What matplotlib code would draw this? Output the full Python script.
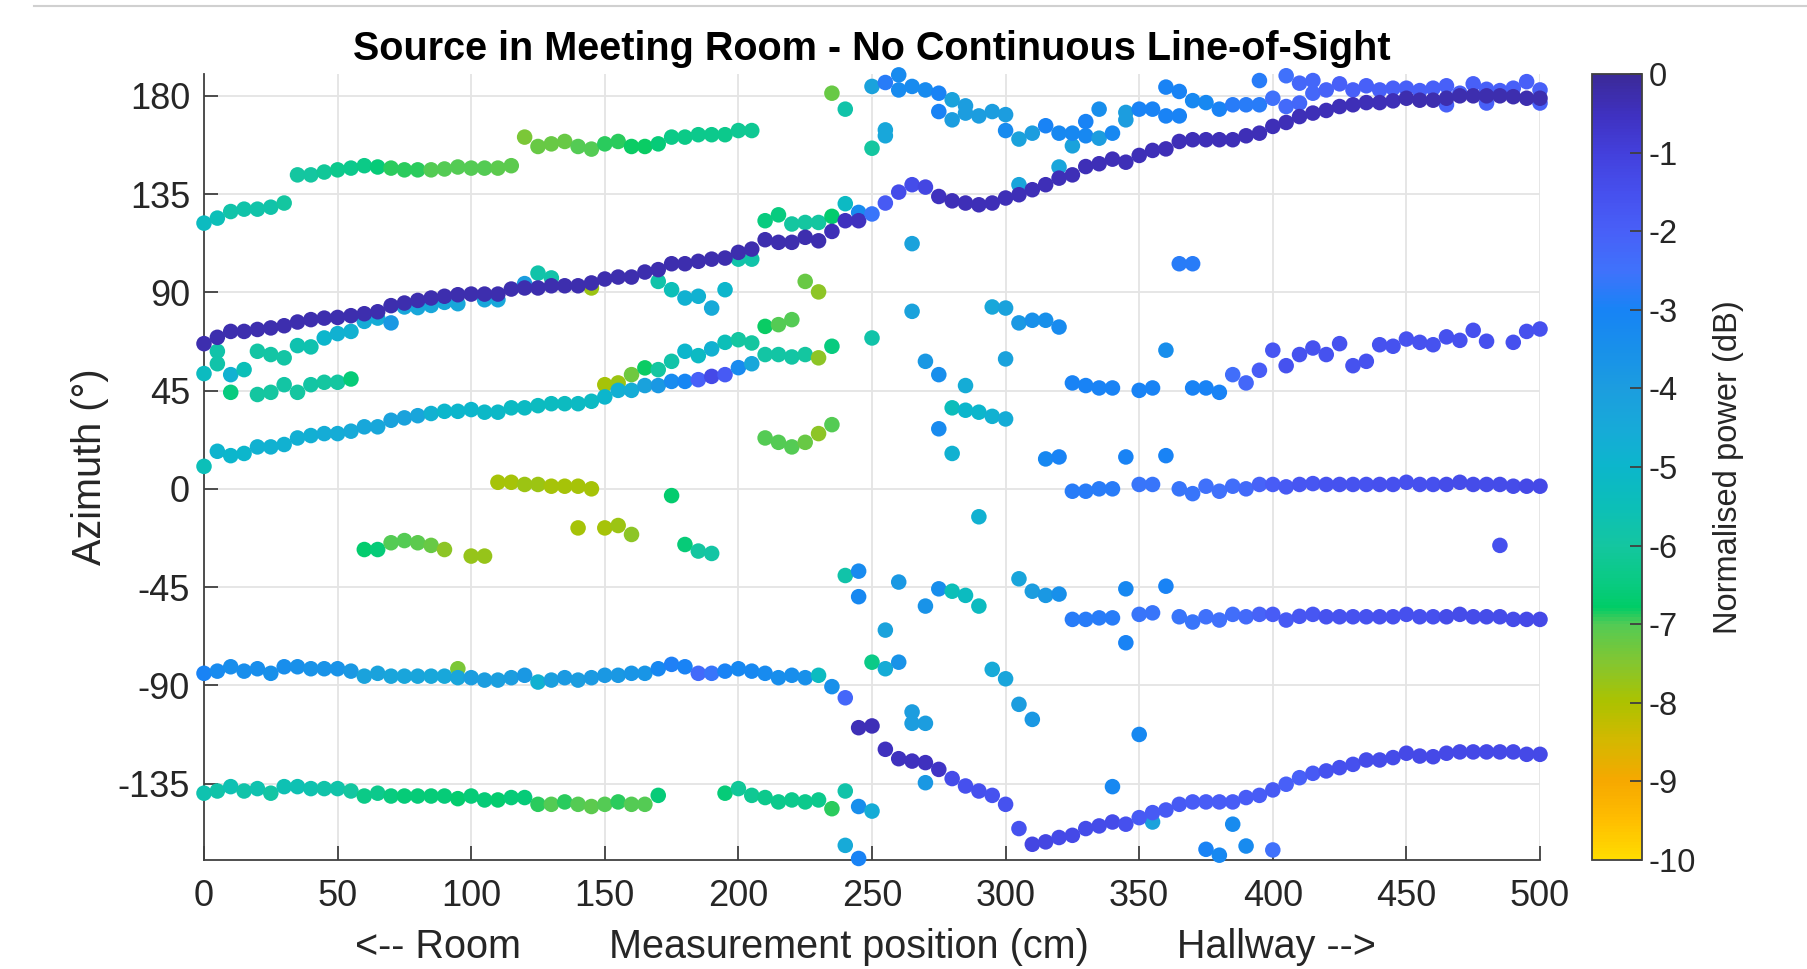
import matplotlib.pyplot as plt
import numpy as np
from matplotlib.colors import LinearSegmentedColormap
from matplotlib.lines import Line2D

plt.rcParams["font.family"] = ["Liberation Sans", "DejaVu Sans"]
plt.rcParams["axes.unicode_minus"] = False

STEP = 5  # cm between measurement positions

# strongest path, measured 0..500 cm
direct_az = [
    66.5, 69.4, 72.1, 72.1, 73.0, 73.7, 74.7, 76.4, 77.5, 78.2,
    78.5, 79.3, 80.2, 81.1, 83.9, 85.1, 86.3, 87.4, 88.2, 88.9,
    89.2, 89.2, 89.2, 91.5, 92.0, 92.0, 93.0, 93.0, 93.0, 94.3,
    96.1, 97.0, 97.0, 99.3, 100.4, 103.1, 103.1, 104.2, 105.2, 105.7,
    108.3, 109.8, 114.1, 112.9, 112.9, 115.2, 113.6, 117.9, 122.8, 122.8,
    125.9, 130.9, 135.9, 139.3, 138.2, 133.9, 131.9, 130.9, 130.1, 130.9,
    133.2, 134.7, 137.0, 139.3, 142.3, 143.8, 147.6, 148.9, 151.0, 149.6,
    152.7, 155.0, 155.7, 159.1, 159.9, 159.9, 159.9, 159.9, 161.7, 162.9,
    166.0, 167.8, 170.5, 172.1, 173.3, 175.1, 175.9, 176.9, 176.9, 177.7,
    178.9, 178.0, 178.0, 178.9, 180.0, 180.0, 180.0, 180.0, 179.6, 178.9,
    178.9,
]
direct_pw = [
    -0.3, -0.3, -0.3, -0.3, -0.3, -0.3, -0.3, -0.3, -0.3, -0.3,
    -0.3, -0.3, -0.3, -0.3, -0.3, -0.3, -0.3, -0.3, -0.3, -0.3,
    -0.3, -0.3, -0.3, -0.3, -0.3, -0.3, -0.3, -0.3, -0.3, -0.3,
    -0.3, -0.3, -0.3, -0.3, -0.3, -0.3, -0.3, -0.3, -0.3, -0.3,
    -0.3, -0.3, -0.3, -0.3, -0.3, -0.3, -0.3, -0.4, -0.5, -0.5,
    -2.6, -1.8, -1.4, -1.4, -1.2, -0.5, -0.4, -0.4, -0.4, -0.4,
    -0.4, -0.4, -0.4, -0.4, -0.4, -0.4, -0.4, -0.4, -0.4, -0.4,
    -0.4, -0.4, -0.4, -0.4, -0.4, -0.4, -0.4, -0.4, -0.4, -0.4,
    -0.4, -0.4, -0.4, -0.4, -0.4, -0.4, -0.4, -0.4, -0.4, -0.4,
    -0.3, -0.3, -0.3, -0.3, -0.3, -0.3, -0.3, -0.3, -0.3, -0.3,
    -0.3,
]

# room, upper reflection 0..205 cm
upper_az = [
    121.7, 124.0, 127.0, 128.1, 128.1, 129.0, 130.9, 143.8, 143.8, 145.1,
    146.1, 146.9, 148.0, 147.4, 146.9, 146.1, 146.1, 146.1, 146.5, 147.4,
    146.9, 146.9, 146.9, 148.0, 161.1, 156.8, 158.0, 159.1, 156.8, 155.6,
    158.0, 159.1, 156.8, 156.8, 158.0, 161.1, 161.1, 162.2, 162.2, 162.2,
    164.1, 164.1,
]
upper_pw = [
    -5.3, -5.5, -5.8, -5.8, -5.8, -5.8, -6.0, -6.0, -6.0, -6.1,
    -6.3, -6.3, -6.4, -6.6, -6.9, -6.9, -6.9, -7.0, -7.0, -7.0,
    -7.0, -7.0, -7.1, -7.1, -7.4, -7.2, -7.2, -7.2, -7.0, -7.0,
    -6.9, -6.9, -6.8, -6.8, -6.6, -6.4, -6.4, -6.3, -6.3, -6.3,
    -6.2, -6.2,
]

# rear wall, 0..240 cm
rear_az = [
    -84.5, -83.5, -81.5, -83.5, -82.4, -84.5, -81.5, -81.5, -82.4, -82.4,
    -82.4, -83.5, -85.8, -84.5, -85.8, -85.8, -85.8, -85.8, -85.8, -86.5,
    -86.5, -87.6, -87.6, -86.5, -85.4, -88.5, -87.6, -86.5, -87.6, -86.5,
    -85.4, -85.4, -84.5, -84.5, -82.4, -80.4, -81.5, -84.5, -84.5, -83.5,
    -82.4, -83.5, -84.5, -86.5, -85.4, -86.5, -85.4, -90.6, -95.7,
]
rear_pw = [
    -3.0, -3.3, -3.4, -3.4, -3.4, -3.5, -3.4, -3.5, -3.6, -3.6,
    -3.6, -3.8, -4.2, -4.2, -4.3, -4.3, -4.3, -4.4, -4.4, -4.3,
    -4.0, -4.0, -4.1, -4.0, -3.8, -4.8, -4.1, -3.9, -4.0, -3.9,
    -3.8, -3.8, -3.7, -3.7, -3.2, -2.9, -3.0, -2.3, -2.6, -3.0,
    -3.2, -3.2, -3.3, -3.4, -3.4, -3.5, -5.3, -3.5, -2.2,
]

# hallway, lower path 245..500 cm
lower_az = [
    -109.4, -108.6, -119.3, -123.6, -124.7, -125.4, -128.5, -132.7, -136.1, -138.4,
    -140.4, -144.5, -155.6, -162.8, -161.7, -159.7, -158.7, -155.6, -154.4, -152.6,
    -153.6, -150.6, -148.3, -147.1, -144.5, -143.4, -143.4, -143.4, -143.4, -141.4,
    -140.4, -137.9, -135.3, -132.3, -130.3, -129.2, -127.7, -126.2, -124.2, -124.2,
    -123.1, -121.1, -122.4, -122.7, -121.1, -120.5, -120.5, -120.5, -120.5, -120.5,
    -121.6, -121.6,
]
lower_pw = [
    -0.4, -0.4, -0.5, -0.5, -0.5, -0.5, -0.6, -1.4, -1.5, -1.5,
    -1.6, -1.6, -1.6, -1.2, -1.2, -1.3, -1.3, -1.4, -1.4, -1.4,
    -1.5, -1.8, -1.8, -1.8, -1.8, -1.9, -1.9, -1.9, -1.9, -1.9,
    -1.9, -1.8, -2.0, -2.0, -1.8, -1.6, -1.5, -1.5, -1.4, -1.4,
    -1.4, -1.3, -1.3, -1.3, -1.3, -1.3, -1.3, -1.3, -1.3, -1.3,
    -1.3, -1.3,
]

# floor band, 0..170 cm and 195..235 cm
floor_az = [
    -139.4, -138.4, -136.4, -138.4, -137.3, -139.4, -136.4, -136.4, -137.3, -137.3,
    -137.3, -138.4, -140.7, -139.4, -140.7, -140.7, -140.7, -140.7, -140.7, -141.9,
    -140.7, -142.5, -142.5, -141.4, -141.4, -144.5, -144.5, -143.4, -144.5, -145.5,
    -144.5, -143.4, -144.5, -144.5, -140.4,
]
floor_pw = [
    -5.7, -5.8, -5.6, -5.8, -5.7, -5.9, -5.6, -5.6, -5.7, -5.8,
    -5.8, -6.0, -6.4, -6.3, -6.5, -6.6, -6.6, -6.6, -6.6, -6.7,
    -6.6, -6.6, -6.7, -6.6, -6.6, -6.9, -7.0, -6.9, -7.0, -7.1,
    -7.0, -6.9, -7.0, -7.0, -6.6,
]
floor2_az = [-139.4, -137.3, -140.4, -141.4, -143.4, -142.5, -143.4, -142.5, -146.5]
floor2_pw = [-6.6, -6.1, -6.2, -6.3, -6.3, -6.3, -6.3, -6.3, -6.9]

# rising side-wall path, 0..205 cm
rise_az = [
    10.3, 17.2, 15.2, 16.2, 19.2, 19.2, 20.3, 23.3, 24.4, 25.3,
    25.3, 26.4, 28.4, 28.4, 31.4, 32.5, 33.5, 34.5, 35.5, 35.5,
    36.3, 35.1, 35.1, 37.1, 37.1, 38.1, 39.0, 39.0, 39.0, 40.1,
    42.1, 45.1, 45.1, 47.3, 47.3, 49.2, 49.2, 50.0, 51.5, 52.3,
    55.5, 57.3,
]
rise_pw = [
    -5.5, -4.9, -5.0, -5.0, -4.8, -4.8, -4.8, -4.7, -4.7, -4.6,
    -4.6, -4.5, -4.4, -4.4, -4.2, -4.2, -4.3, -4.8, -5.0, -5.0,
    -5.0, -5.1, -5.1, -5.2, -5.2, -5.3, -5.3, -5.3, -5.2, -5.2,
    -5.0, -4.7, -4.6, -4.2, -3.8, -3.3, -3.1, -2.0, -1.3, -1.8,
    -3.3, -4.4,
]

# hallway bands
band_x = [325, 330, 335, 340, 350, 355, 365, 370, 375, 380, 385, 390, 395, 400,
          405, 410, 415, 420, 425, 430, 435, 440, 445, 450, 455, 460, 465, 470,
          475, 480, 485, 490, 495, 500]
band0_az = [-1.1, -1.1, 0.0, 0.0, 2.0, 2.0, 0.0, -2.2, 1.2, -1.1, 1.2, 0.0, 2.0, 2.0,
            0.9, 2.0, 2.4, 2.0, 2.0, 2.0, 2.0, 2.0, 2.0, 3.0, 2.0, 2.0, 2.0, 3.0,
            2.0, 2.0, 2.0, 1.2, 1.2, 1.2]
band60_az = [-59.8, -59.8, -59.1, -59.1, -57.5, -56.8, -58.6, -61.0, -58.6, -60.1,
             -57.5, -58.6, -57.5, -57.5, -60.1, -58.4, -57.5, -58.6, -58.6, -58.6,
             -58.6, -58.6, -58.6, -57.5, -58.6, -58.6, -58.6, -57.5, -58.6, -58.6,
             -58.6, -59.8, -59.8, -59.8]
band_pw = [-2.8, -2.8, -2.8, -2.8, -2.6, -2.6, -2.6, -2.6, -2.5, -2.5, -2.4, -2.3,
           -2.1, -1.9, -1.8, -1.7, -1.7, -1.6, -1.6, -1.6, -1.6, -1.5, -1.5, -1.5,
           -1.5, -1.5, -1.4, -1.4, -1.4, -1.4, -1.4, -1.4, -1.3, -1.3]

band45_x = [325, 330, 335, 340, 350, 355, 360, 370, 375, 380, 385, 390, 395, 400,
            405, 410, 415, 420, 425, 430, 435, 440, 445, 450, 455, 460, 465, 470,
            475, 480, 490, 495, 500]
band45_az = [48.5, 47.3, 46.2, 46.2, 45.1, 46.2, 63.5, 46.2, 46.2, 44.2, 52.3, 48.5,
             54.3, 63.5, 56.4, 61.5, 64.5, 61.5, 66.5, 56.4, 58.4, 66.0, 65.3, 68.6,
             67.1, 66.0, 69.6, 68.0, 72.6, 67.6, 67.1, 72.1, 73.2]
band45_pw = [-3.0, -3.0, -3.0, -3.0, -3.0, -3.0, -3.4, -3.0, -3.0, -3.0, -2.4, -2.2,
             -1.9, -1.7, -1.6, -1.6, -1.6, -1.6, -1.6, -1.6, -1.6, -1.6, -1.6, -1.6,
             -1.6, -1.6, -1.5, -1.5, -1.5, -1.5, -1.5, -1.5, -1.5]

# hallway, ceiling band 250..500 cm
top_az = [
    184.3, 186.1, 189.6, 184.3, 182.7, 181.2, 178.2, 175.4, 170.8, 172.8,
    171.4, 160.2, 162.9, 166.3, 162.9, 162.9, 168.2, 173.9, 162.9, 172.4,
    173.9, 173.9, 184.0, 182.0, 177.8, 176.9, 173.9, 175.9, 175.9, 175.9,
    178.9, 189.2, 185.8, 187.0, 182.7, 185.5, 182.7, 184.6, 182.7, 183.5,
    183.5, 182.4, 183.5, 184.6, 181.2, 185.5, 183.0, 182.4, 183.5, 186.5,
    182.7,
]
top_pw = [
    -4.2, -2.8, -3.3, -3.3, -3.3, -3.0, -4.2, -4.0, -4.0, -4.0,
    -4.0, -4.2, -4.0, -3.0, -3.2, -3.2, -3.0, -3.4, -3.2, -4.0,
    -3.0, -3.0, -3.0, -3.0, -3.2, -3.2, -3.0, -2.8, -2.8, -2.8,
    -2.5, -2.5, -2.2, -2.2, -2.1, -2.0, -2.0, -2.0, -2.0, -2.0,
    -2.0, -2.0, -2.0, -2.0, -2.0, -2.0, -2.0, -2.0, -2.0, -2.0,
    -2.0,
]

# short fragments and single reflections
extra_x = [
    0, 5, 10, 15, 5,
    20, 25, 30, 35, 40, 45, 50, 55, 60, 65, 70,
    75, 80, 85, 90, 95, 105, 110,
    10, 20, 25, 30, 35, 40, 45, 50, 55,
    120, 125, 130, 145, 170, 175, 180, 185, 190, 195, 200, 205,
    150, 155, 160, 165, 170, 175, 180, 185, 190, 195, 200, 205,
    210, 215, 220, 225, 230, 235, 210, 215, 220,
    210, 215, 220, 225, 230, 235, 225, 230, 240, 245,
    110, 115, 120, 125, 130, 135, 140, 145,
    60, 65, 70, 75, 80, 85, 90, 100, 105,
    140, 150, 155, 160, 175, 180, 185, 190,
    210, 215, 220, 225, 230, 235, 95,
    240, 245, 250, 240, 245,
    235, 240, 250, 255, 255, 260, 275, 280, 285, 300,
    325, 330, 335, 345, 360, 365, 395,
    405, 410, 415, 465, 480, 500,
    265, 265, 295, 250, 270, 275, 285, 300,
    280, 285, 290, 295, 300, 275, 280, 290,
    240, 245, 245, 260, 255, 250, 255, 260,
    270, 275, 280, 285, 290, 295, 300,
    265, 265, 270, 270,
    300, 305, 310, 315, 320, 305, 320,
    305, 310, 315, 320, 305, 310,
    315, 320, 345, 360, 365, 370,
    345, 360, 345, 350, 340, 355, 375, 380, 385, 390, 400, 485,
]
extra_az = [
    52.8, 57.3, 52.3, 54.6, 63.0,
    63.0, 61.5, 60.0, 65.6, 65.0, 69.1, 71.1, 72.1, 76.7, 78.2, 76.0,
    83.3, 83.0, 84.0, 85.4, 84.8, 86.6, 86.6,
    44.2, 43.2, 44.2, 47.7, 44.2, 47.7, 48.8, 48.8, 50.3,
    94.0, 98.8, 96.6, 92.0, 95.0, 91.2, 87.4, 88.2, 82.8, 91.2, 105.2, 105.2,
    47.7, 48.5, 52.3, 55.4, 54.6, 58.4, 63.0, 61.0, 64.1, 67.1, 68.3, 66.8,
    61.5, 61.5, 60.4, 61.5, 60.0, 65.3, 74.4, 75.2, 77.5,
    122.8, 125.5, 121.3, 122.0, 122.0, 124.8, 95.0, 90.2, 130.6, 126.6,
    3.0, 3.0, 2.0, 2.0, 1.2, 1.2, 1.2, 0.0,
    -27.8, -27.8, -24.7, -23.7, -24.7, -25.9, -27.8, -30.8, -30.8,
    -17.9, -17.9, -16.8, -20.9, -3.1, -25.5, -28.5, -29.6,
    23.3, 21.3, 19.2, 21.3, 25.3, 29.4, -82.4,
    -138.4, -145.5, -147.6, -163.3, -169.3,
    181.2, 173.9, 156.0, 164.4, 161.7, 182.7, 172.8, 169.0, 172.1, 164.1,
    157.1, 161.7, 160.6, 169.0, 170.8, 170.8, 187.0,
    175.1, 176.7, 181.2, 175.9, 176.7, 176.7,
    112.3, 81.3, 83.3, 69.1, 58.4, 52.3, 47.3, 59.5,
    37.1, 36.0, 35.1, 33.2, 32.0, 27.5, 16.2, -12.8,
    -39.7, -37.7, -49.4, -42.7, -64.7, -79.4, -82.4, -79.4,
    -53.7, -45.8, -46.9, -48.8, -53.7, -82.7, -87.0,
    -102.2, -107.4, -107.4, -134.6,
    82.8, 76.0, 77.2, 77.2, 74.1, 139.3, 147.4,
    -41.2, -46.9, -48.8, -48.2, -98.7, -105.6,
    13.7, 14.6, 14.6, 15.2, 103.1, 103.1,
    -45.8, -44.6, -70.5, -112.5, -136.4, -152.6, -165.1, -167.8, -153.6, -163.6, -165.4, -25.9,
]
extra_pw = [
    -5.3, -5.8, -4.8, -5.5, -5.8,
    -5.9, -5.9, -5.9, -5.7, -5.7, -5.0, -4.8, -4.8, -4.6, -4.6, -3.8,
    -4.4, -4.4, -4.4, -4.4, -4.4, -4.4, -4.4,
    -6.5, -6.0, -6.0, -5.9, -6.0, -5.9, -6.0, -6.0, -6.6,
    -4.0, -5.8, -5.8, -7.8, -5.8, -5.5, -4.8, -4.8, -4.5, -5.0, -5.8, -5.8,
    -7.9, -7.8, -7.3, -6.8, -6.0, -5.8, -5.0, -5.2, -4.8, -5.5, -6.0, -6.0,
    -5.9, -5.9, -5.9, -6.0, -7.6, -6.5, -6.8, -7.0, -7.0,
    -6.5, -6.5, -6.0, -6.0, -6.0, -6.7, -7.2, -7.6, -5.2, -3.3,
    -7.9, -7.9, -7.8, -7.8, -7.9, -7.9, -7.9, -7.9,
    -6.7, -6.6, -7.0, -7.0, -7.1, -7.2, -7.6, -7.7, -7.7,
    -7.9, -7.9, -7.8, -7.6, -6.7, -6.6, -6.0, -5.9,
    -7.0, -7.0, -7.0, -7.2, -7.6, -7.0, -7.4,
    -5.8, -3.4, -4.6, -4.5, -3.0,
    -7.2, -5.8, -6.0, -4.4, -4.4, -3.3, -3.0, -4.0, -4.0, -3.3,
    -4.2, -3.2, -4.0, -4.0, -3.0, -3.0, -2.8,
    -2.3, -2.2, -2.2, -2.0, -2.0, -2.0,
    -4.2, -4.2, -4.4, -5.8, -3.8, -3.4, -4.6, -4.2,
    -5.4, -5.0, -5.0, -4.8, -4.6, -3.3, -4.8, -4.8,
    -5.8, -3.3, -3.2, -3.8, -4.2, -6.4, -4.6, -3.6,
    -3.6, -3.4, -5.5, -5.3, -5.3, -4.5, -4.3,
    -4.0, -4.0, -4.0, -3.8,
    -4.2, -3.8, -3.5, -3.5, -3.3, -4.3, -4.3,
    -4.3, -4.0, -3.8, -3.5, -4.0, -3.8,
    -3.2, -3.0, -3.0, -3.0, -2.8, -2.8,
    -3.2, -3.0, -3.0, -3.2, -3.2, -4.2, -3.0, -3.2, -3.3, -3.3, -2.5, -1.5,
]

# colour scale as sampled from the reference colorbar (dB -> colour)
cbar_db = [-10, -9.5, -9, -8.5, -8, -7.5, -7, -6.8, -6.5, -6, -5.5, -5, -4.5,
           -4, -3.5, -3, -2.5, -2, -1.5, -1, -0.5, 0]
cbar_rgb = ["#ffdc00", "#ffbd00", "#f6a800", "#d4b800", "#acc200", "#84c630",
            "#52cb55", "#00cc66", "#08cb80", "#14c6a0", "#0cbfb8", "#0cb6cb",
            "#17aad8", "#1c9ddf", "#1890ea", "#1784f5", "#3f72fb", "#4860f8",
            "#4650ee", "#4340dc", "#3f31c0", "#3b2a98"]


def make_cmap():
    pos = [(v - cbar_db[0]) / (cbar_db[-1] - cbar_db[0]) for v in cbar_db]
    return LinearSegmentedColormap.from_list("power", list(zip(pos, cbar_rgb)))


def track(start, az):
    return start + STEP * np.arange(len(az))


series = [
    (np.array(extra_x), extra_az, extra_pw),
    (track(0, floor_az), floor_az, floor_pw),
    (track(195, floor2_az), floor2_az, floor2_pw),
    (track(0, rear_az), rear_az, rear_pw),
    (track(0, rise_az), rise_az, rise_pw),
    (track(0, upper_az), upper_az, upper_pw),
    (np.array(band_x), band0_az, band_pw),
    (np.array(band_x), band60_az, band_pw),
    (np.array(band45_x), band45_az, band45_pw),
    (np.concatenate([track(250, top_az[:31]), track(405, top_az[31:])]), top_az, top_pw),
    (track(245, lower_az), lower_az, lower_pw),
    (track(0, direct_az), direct_az, direct_pw),
]

cmap = make_cmap()
fig = plt.figure(figsize=(18.08, 9.69), dpi=100)
ax = fig.add_axes([204 / 1808, 1 - 860 / 969, 1336 / 1808, 786 / 969])
cax = fig.add_axes([1592 / 1808, 1 - 860 / 969, 50 / 1808, 786 / 969])

for x, az, pw in series:
    sc = ax.scatter(x, az, c=pw, cmap=cmap, vmin=-10, vmax=0, s=125,
                    linewidths=0, clip_on=False, zorder=3)

ax.set_xlim(0, 500)
ax.set_ylim(-170, 190)
ax.set_xticks(np.arange(0, 501, 50))
ax.set_yticks(np.arange(-135, 181, 45))
ax.grid(True, color="#e4e4e4", linewidth=1.3)
ax.set_axisbelow(True)
for side in ["top", "right"]:
    ax.spines[side].set_visible(False)
for side in ["left", "bottom"]:
    ax.spines[side].set_color("#404040")
    ax.spines[side].set_linewidth(1.3)
ax.tick_params(direction="in", length=10, width=1.3, color="#404040",
               labelsize=26, labelcolor="#262626")
ax.tick_params(axis="x", pad=14)
ax.tick_params(axis="y", pad=10)

ax.set_title("Source in Meeting Room - No Continuous Line-of-Sight",
             fontsize=28.5, fontweight="bold", pad=10)
ax.set_xlabel("<-- Room        Measurement position (cm)        Hallway -->",
              fontsize=28.5, color="#262626")
ax.xaxis.set_label_coords(0.495, -0.087)
ax.set_ylabel("Azimuth (°)", fontsize=28.5, color="#262626", labelpad=6)

cb = fig.colorbar(sc, cax=cax, ticks=np.arange(-10, 1, 1))
cb.outline.set_edgecolor("#404040")
cb.outline.set_linewidth(1.3)
cax.tick_params(direction="in", length=9, width=1.3, color="#404040",
                labelsize=23.5, labelcolor="#262626", pad=5)
cb.set_label("Normalised power (dB)", fontsize=23.5, color="#262626", labelpad=12)

fig.add_artist(Line2D([0.019, 1.0], [1 - 6 / 969] * 2, transform=fig.transFigure,
                      color="#d0d0d0", linewidth=1.5))

fig.savefig("out.png", dpi=100)
